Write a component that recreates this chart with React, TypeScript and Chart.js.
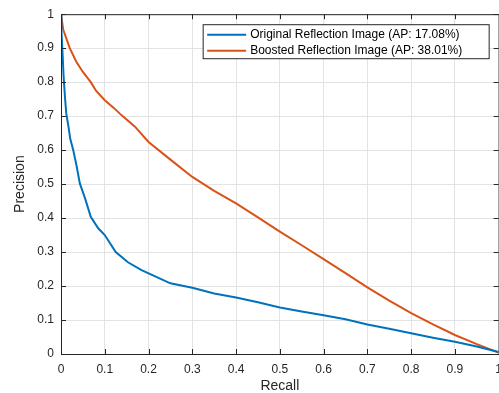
import React, { useEffect, useRef } from "react";
import { Chart, registerables } from "chart.js";

Chart.register(...registerables);

// ---- data ----
const recallOriginal = [0, 0.0005, 0.0015, 0.003, 0.006, 0.009, 0.012, 0.017, 0.021, 0.028, 0.036, 0.043, 0.055, 0.068, 0.085, 0.1, 0.125, 0.153, 0.184, 0.214, 0.25, 0.3, 0.35, 0.4, 0.45, 0.5, 0.55, 0.6, 0.65, 0.7, 0.75, 0.8, 0.85, 0.9, 0.95, 1.0];
const precisionOriginal = [1, 0.97, 0.95, 0.9, 0.816, 0.757, 0.708, 0.67, 0.634, 0.6, 0.551, 0.502, 0.458, 0.404, 0.37, 0.35, 0.3, 0.27, 0.247, 0.229, 0.208, 0.195, 0.178, 0.166, 0.152, 0.137, 0.125, 0.114, 0.102, 0.087, 0.074, 0.061, 0.048, 0.036, 0.022, 0.006];

const recallBoosted = [0, 0.005, 0.02, 0.035, 0.05, 0.068, 0.08, 0.1, 0.12, 0.138, 0.169, 0.2, 0.25, 0.3, 0.35, 0.4, 0.45, 0.5, 0.55, 0.6, 0.65, 0.7, 0.75, 0.8, 0.85, 0.9, 0.95, 1.0];
const precisionBoosted = [1, 0.955, 0.9, 0.86, 0.83, 0.8, 0.775, 0.747, 0.725, 0.703, 0.669, 0.624, 0.572, 0.521, 0.48, 0.443, 0.402, 0.36, 0.32, 0.279, 0.238, 0.196, 0.157, 0.12, 0.087, 0.056, 0.029, 0.004];

const seriesLabels = ["Original Reflection Image (AP: 17.08%)", "Boosted Reflection Image (AP: 38.01%)"];
const seriesColors = ["#0072BD", "#D95319"];
const tickValues = [0, 0.1, 0.2, 0.3, 0.4, 0.5, 0.6, 0.7, 0.8, 0.9, 1];
const xTitle = "Recall";
const yTitle = "Precision";

const FONT = "'Liberation Sans', Arial, Helvetica, sans-serif";
const AXIS_COLOR = "#262626";

const boxPlugin = {
  id: "matlabBox",
  afterDatasetsDraw(chart: any) {
    const { ctx, chartArea } = chart;
    const { left, right, top, bottom } = chartArea;
    const xs = chart.scales.x;
    const ys = chart.scales.y;
    ctx.save();
    ctx.strokeStyle = AXIS_COLOR;
    ctx.lineWidth = 1;
    ctx.beginPath();
    ctx.rect(left + 0.5, top + 0.5, right - left, bottom - top);
    ctx.stroke();
    const tl = 5;
    ctx.beginPath();
    tickValues.forEach((v) => {
      const px = Math.round(xs.getPixelForValue(v)) + 0.5;
      ctx.moveTo(px, bottom);
      ctx.lineTo(px, bottom - tl);
      ctx.moveTo(px, top);
      ctx.lineTo(px, top + tl);
      const py = Math.round(ys.getPixelForValue(v)) + 0.5;
      ctx.moveTo(left, py);
      ctx.lineTo(left + tl, py);
      ctx.moveTo(right, py);
      ctx.lineTo(right - tl, py);
    });
    ctx.stroke();

    // legend
    const bx = right - 296 + 0.5;
    const by = top + 10 + 0.5;
    const bw = 286;
    const bh = 34;
    ctx.fillStyle = "#ffffff";
    ctx.fillRect(bx, by, bw, bh);
    ctx.strokeStyle = AXIS_COLOR;
    ctx.lineWidth = 1;
    ctx.strokeRect(bx, by, bw, bh);
    ctx.font = "12px " + FONT;
    ctx.textBaseline = "middle";
    ctx.textAlign = "left";
    chart.data.datasets.forEach((ds: any, i: number) => {
      const cy = by + 10 + i * 16;
      ctx.strokeStyle = ds.borderColor;
      ctx.lineWidth = 2;
      ctx.beginPath();
      ctx.moveTo(bx + 4, cy);
      ctx.lineTo(bx + 43, cy);
      ctx.stroke();
      ctx.fillStyle = "#000000";
      ctx.fillText(ds.label, bx + 47, cy);
    });
    ctx.restore();
  },
};

export default function App() {
  const canvasRef = useRef<HTMLCanvasElement | null>(null);

  useEffect(() => {
    document.body.style.margin = "0";
    const canvas = canvasRef.current;
    if (!canvas) return;
    const fmt = (v: any) => String(Math.round(Number(v) * 10) / 10);
    const chart = new Chart(canvas, {
      type: "scatter",
      data: {
        datasets: [
          {
            label: seriesLabels[0],
            data: recallOriginal.map((r, i) => ({ x: r, y: precisionOriginal[i] })),
            borderColor: seriesColors[0],
            backgroundColor: seriesColors[0],
            showLine: true,
            borderWidth: 2,
            pointRadius: 0,
            tension: 0,
          },
          {
            label: seriesLabels[1],
            data: recallBoosted.map((r, i) => ({ x: r, y: precisionBoosted[i] })),
            borderColor: seriesColors[1],
            backgroundColor: seriesColors[1],
            showLine: true,
            borderWidth: 2,
            pointRadius: 0,
            tension: 0,
          },
        ],
      },
      options: {
        responsive: false,
        animation: false,
        devicePixelRatio: 1,
        layout: { padding: { left: 0, top: 14, right: 10, bottom: 0 } },
        plugins: { legend: { display: false }, tooltip: { enabled: false } },
        scales: {
          x: {
            type: "linear",
            min: 0,
            max: 1,
            afterBuildTicks: (s: any) => {
              s.ticks = tickValues.map((v) => ({ value: v }));
            },
            afterFit: (s: any) => {
              s.height = 39;
            },
            ticks: {
              callback: fmt,
              padding: 8,
              color: AXIS_COLOR,
              font: { family: FONT, size: 12 },
              maxRotation: 0,
              autoSkip: false,
            },
            grid: { color: "#e3e3e3", drawTicks: false, lineWidth: 1 },
            border: { display: false },
            title: {
              display: true,
              text: xTitle,
              color: AXIS_COLOR,
              font: { family: FONT, size: 14, lineHeight: 1 },
              padding: { top: 0, bottom: 0 },
            },
          },
          y: {
            type: "linear",
            min: 0,
            max: 1,
            afterBuildTicks: (s: any) => {
              s.ticks = tickValues.map((v) => ({ value: v }));
            },
            afterFit: (s: any) => {
              s.width = 61;
            },
            ticks: {
              callback: fmt,
              padding: 7,
              color: AXIS_COLOR,
              font: { family: FONT, size: 12 },
              autoSkip: false,
            },
            grid: { color: "#e3e3e3", drawTicks: false, lineWidth: 1 },
            border: { display: false },
            title: {
              display: true,
              text: yTitle,
              color: AXIS_COLOR,
              font: { family: FONT, size: 14, lineHeight: 1 },
              padding: { top: 13, bottom: 0 },
            },
          },
        },
      },
      plugins: [boxPlugin],
    } as any);
    return () => chart.destroy();
  }, []);

  return (
    <div style={{ position: "fixed", left: 0, top: 0, width: 499, height: 393, overflow: "hidden", background: "#fff" }}>
      <canvas ref={canvasRef} width={510} height={393} style={{ display: "block" }} />
    </div>
  );
}
